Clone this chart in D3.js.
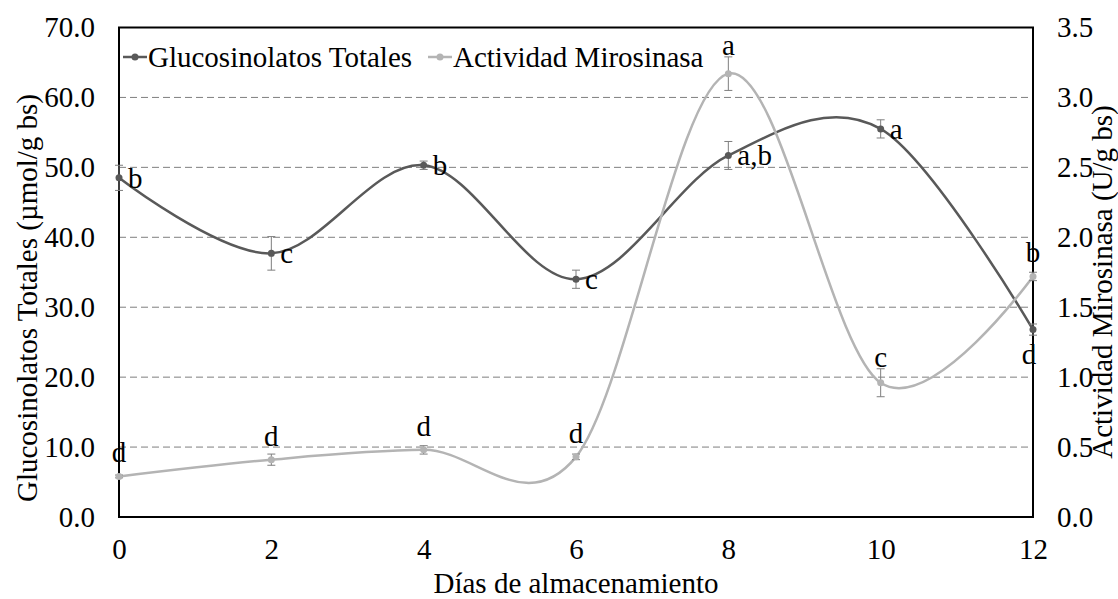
<!DOCTYPE html>
<html>
<head>
<meta charset="utf-8">
<script src="https://cdn.jsdelivr.net/npm/d3@7"></script>
<style>
  html, body { margin: 0; padding: 0; background: #fff; }
  svg text { font-family: "Liberation Serif", "Times New Roman", serif; fill: #000; }
</style>
</head>
<body>
<svg id="chart" width="1118" height="599"></svg>
<script>
// ---- data ----
const days = [0, 2, 4, 6, 8, 10, 12];
const glucoValues = [48.5, 37.7, 50.3, 34.0, 51.7, 55.5, 26.8];
const glucoErrors = [1.8, 2.4, 0.6, 1.3, 2.0, 1.3, 0.8];
const glucoLabels = ["b", "c", "b", "c", "a,b", "a", "d"];
const glucoLabelPlacement = ["right", "right", "right", "right", "right", "right", "below"];
const miroValues = [0.29, 0.41, 0.48, 0.43, 3.17, 0.96, 1.72];
const miroErrors = [0.01, 0.04, 0.03, 0.02, 0.12, 0.10, 0.03];
const miroLabels = ["d", "d", "d", "d", "a", "c", "b"];
const leftTicks = [0, 10, 20, 30, 40, 50, 60, 70];
const rightTicks = [0, 0.5, 1.0, 1.5, 2.0, 2.5, 3.0, 3.5];
const xTicks = [0, 2, 4, 6, 8, 10, 12];
const seriesNames = ["Glucosinolatos Totales", "Actividad Mirosinasa"];

// ---- layout ----
const svg = d3.select("#chart");
const L = 119, R = 1033, T = 27.5, B = 517;
const FS = "29px";
const x = d3.scaleLinear().domain([0, 12]).range([L, R]);
const yL = d3.scaleLinear().domain([0, 70]).range([B, T]);
const yR = d3.scaleLinear().domain([0, 3.5]).range([B, T]);
const glucoColor = "#595959", miroColor = "#b4b4b4", errColor = "#7f7f7f";

// gridlines
svg.append("g").selectAll("line").data(leftTicks.filter(d => d > 0 && d < 70)).join("line")
  .attr("x1", L).attr("x2", R).attr("y1", d => yL(d)).attr("y2", d => yL(d))
  .attr("stroke", "#7f7f7f").attr("stroke-width", 1).attr("stroke-dasharray", "7,4");

// frame
svg.append("rect").attr("x", L).attr("y", T).attr("width", R - L).attr("height", B - T)
  .attr("fill", "none").attr("stroke", "#000").attr("stroke-width", 2);

// axes (labels only)
const axL = d3.axisLeft(yL).tickValues(leftTicks).tickFormat(d3.format(".1f")).tickSize(0).tickPadding(24);
const gL = svg.append("g").attr("transform", `translate(${L},0)`).call(axL);
const axR = d3.axisRight(yR).tickValues(rightTicks).tickFormat(d3.format(".1f")).tickSize(0).tickPadding(24);
const gR = svg.append("g").attr("transform", `translate(${R},0)`).call(axR);
const axB = d3.axisBottom(x).tickValues(xTicks).tickFormat(d3.format("d")).tickSize(0).tickPadding(21);
const gB = svg.append("g").attr("transform", `translate(0,${B})`).call(axB);
[gL, gR, gB].forEach(g => {
  g.select(".domain").remove();
  g.selectAll("text").style("font-size", FS).style("font-family", '"Liberation Serif", "Times New Roman", serif').attr("fill", "#000");
});

// axis titles
svg.append("text").attr("transform", `translate(37,298) rotate(-90)`)
  .attr("text-anchor", "middle").style("font-size", FS).text("Glucosinolatos Totales (µmol/g bs)");
svg.append("text").attr("transform", `translate(1112,282) rotate(-90)`)
  .attr("text-anchor", "middle").style("font-size", FS).text("Actividad Mirosinasa (U/g bs)");
svg.append("text").attr("x", (L + R) / 2).attr("y", 593)
  .attr("text-anchor", "middle").style("font-size", FS).text("Días de almacenamiento");

function drawSeries(vals, errs, yScale, color) {
  const pts = days.map((d, i) => ({ d, v: vals[i], e: errs[i] }));
  const line = d3.line().x(p => x(p.d)).y(p => yScale(p.v)).curve(d3.curveCardinal.tension(0));
  svg.append("path").datum(pts).attr("d", line).attr("fill", "none")
    .attr("stroke", color).attr("stroke-width", 2.5);
  const eb = svg.append("g").attr("stroke", errColor).attr("stroke-width", 1);
  pts.forEach(p => {
    const y1 = yScale(p.v + p.e), y2 = yScale(p.v - p.e), cx = x(p.d);
    eb.append("line").attr("x1", cx).attr("x2", cx).attr("y1", y1).attr("y2", y2);
    eb.append("line").attr("x1", cx - 4).attr("x2", cx + 4).attr("y1", y1).attr("y2", y1);
    eb.append("line").attr("x1", cx - 4).attr("x2", cx + 4).attr("y1", y2).attr("y2", y2);
  });
  svg.append("g").selectAll("circle").data(pts).join("circle")
    .attr("cx", p => x(p.d)).attr("cy", p => yScale(p.v)).attr("r", 3.5).attr("fill", color);
  return pts;
}

const gPts = drawSeries(glucoValues, glucoErrors, yL, glucoColor);
const mPts = drawSeries(miroValues, miroErrors, yR, miroColor);

// data labels
svg.append("g").selectAll("text").data(gPts).join("text")
  .attr("x", (p, i) => glucoLabelPlacement[i] === "right" ? x(p.d) + 9 : x(p.d) - 4)
  .attr("y", (p, i) => glucoLabelPlacement[i] === "right" ? yL(p.v) + 10 : yL(p.v) + 34)
  .attr("text-anchor", (p, i) => glucoLabelPlacement[i] === "right" ? "start" : "middle")
  .style("font-size", FS).text((p, i) => glucoLabels[i]);
svg.append("g").selectAll("text").data(mPts).join("text")
  .attr("x", p => x(p.d)).attr("y", p => Math.min(yR(p.v) - 14, yR(p.v + p.e) - 2))
  .attr("text-anchor", "middle").style("font-size", FS).text((p, i) => miroLabels[i]);

// legend
const legend = svg.append("g");
const legendItems = [
  { name: seriesNames[0], color: glucoColor, x0: 123 },
  { name: seriesNames[1], color: miroColor, x0: 428 }
];
legendItems.forEach(it => {
  legend.append("line").attr("x1", it.x0).attr("x2", it.x0 + 24).attr("y1", 57).attr("y2", 57)
    .attr("stroke", it.color).attr("stroke-width", 2.5);
  legend.append("circle").attr("cx", it.x0 + 12).attr("cy", 57).attr("r", 3.5).attr("fill", it.color);
  legend.append("text").attr("x", it.x0 + 25).attr("y", 67).style("font-size", FS).text(it.name);
});
</script>
</body>
</html>
